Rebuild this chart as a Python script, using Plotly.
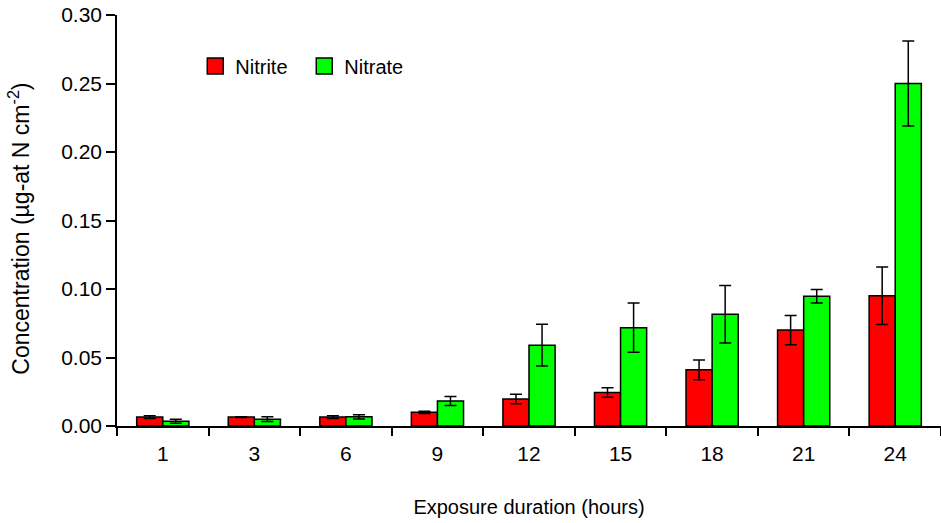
import plotly.graph_objects as go

hours = ["1", "3", "6", "9", "12", "15", "18", "21", "24"]
nitrite = [0.0065, 0.0065, 0.0065, 0.010, 0.0197, 0.0245, 0.041, 0.070, 0.095]
nitrite_err = [0.001, 0.0003, 0.001, 0.0008, 0.0034, 0.0035, 0.0072, 0.0107, 0.021]
nitrate = [0.0035, 0.005, 0.0067, 0.0183, 0.059, 0.0718, 0.0815, 0.0947, 0.250]
nitrate_err = [0.0015, 0.0017, 0.0015, 0.0033, 0.0152, 0.018, 0.021, 0.005, 0.031]

font_family = "Liberation Sans, Arial, sans-serif"

fig = go.Figure()
fig.add_trace(go.Bar(
    x=hours, y=nitrite, name="Nitrite", showlegend=False,
    marker=dict(color="#FF0000", line=dict(color="black", width=1.5)),
    error_y=dict(type="data", array=nitrite_err, color="black", thickness=1.5, width=6),
))
fig.add_trace(go.Bar(
    x=hours, y=nitrate, name="Nitrate", showlegend=False,
    marker=dict(color="#00FF00", line=dict(color="black", width=1.5)),
    error_y=dict(type="data", array=nitrate_err, color="black", thickness=1.5, width=6),
))
# legend entries
for name, col in [("Nitrite", "#FF0000"), ("Nitrate", "#00FF00")]:
    fig.add_trace(go.Scatter(
        x=[None], y=[None], mode="markers", name=name,
        marker=dict(symbol="square", size=20, color=col, line=dict(color="black", width=1.5)),
    ))

fig.update_layout(
    width=941, height=523,
    margin=dict(l=117, r=0, t=15, b=97),
    paper_bgcolor="white", plot_bgcolor="white",
    font=dict(family=font_family, size=21, color="black"),
    barmode="group", bargap=0.43, bargroupgap=0,
    legend=dict(orientation="h", x=0.095, y=0.876, xanchor="left", yanchor="middle",
                font=dict(size=20), itemsizing="trace", bgcolor="rgba(0,0,0,0)",
                entrywidth=64),
    xaxis=dict(
        type="category", tickson="boundaries", ticks="outside", ticklen=8, tickwidth=1.5,
        tickcolor="black", showline=True, linecolor="black", linewidth=1.5,
        showgrid=False, zeroline=False, range=[-0.5, 8.5], ticklabelstandoff=8,
        tickfont=dict(size=21),
        title=dict(text="Exposure duration (hours)", standoff=36, font=dict(size=20)),
    ),
    yaxis=dict(
        range=[0, 0.30], dtick=0.05, tickformat=".2f", ticks="outside", ticklen=9,
        tickwidth=1.5, tickcolor="black", showline=True, linecolor="black", linewidth=1.5,
        showgrid=False, zeroline=False, tickfont=dict(size=21),
    ),
    annotations=[dict(
        text="Concentration (µg-at N cm<sup>-2</sup>)", textangle=-90,
        xref="paper", yref="paper", x=-0.119, y=0.48, xanchor="center", yanchor="middle",
        showarrow=False, font=dict(size=23),
    )],
)

fig.write_html("out.html")
